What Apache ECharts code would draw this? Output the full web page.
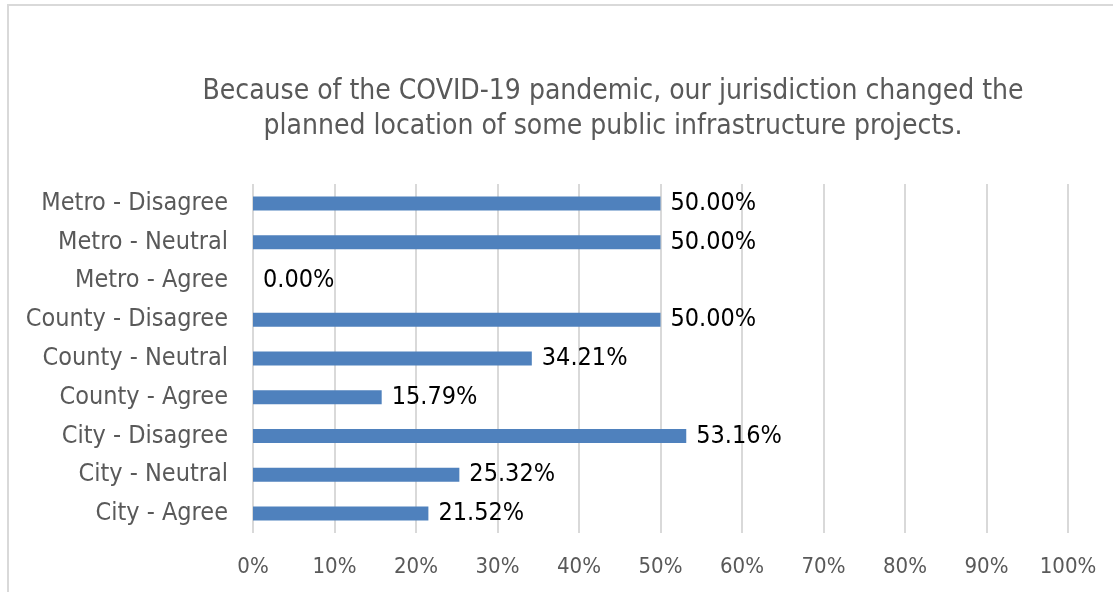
<!DOCTYPE html>
<html>
<head>
<meta charset="utf-8">
<script src="https://cdn.jsdelivr.net/npm/echarts@6/dist/echarts.min.js"></script>
<style>
  html, body { margin: 0; padding: 0; background: #fff; }
  #chart { width: 1113px; height: 592px; }
  #frame { position: absolute; left: 7px; top: 4px; width: 1120px; height: 600px; border: 2px solid #d9d9d9; box-sizing: border-box; pointer-events: none; }
</style>
</head>
<body>
<div id="chart"></div>
<div id="frame"></div>
<script>
const titleText = 'Because of the COVID-19 pandemic, our jurisdiction changed the\nplanned location of some public infrastructure projects.'
// bottom to top, as drawn
const categories = [
  'City - Agree', 'City - Neutral', 'City - Disagree',
  'County - Agree', 'County - Neutral', 'County - Disagree',
  'Metro - Agree', 'Metro - Neutral', 'Metro - Disagree'
]
const values = [21.52, 25.32, 53.16, 15.79, 34.21, 50.00, 0.00, 50.00, 50.00]

const fontFamily = '"DejaVu Sans Condensed", "DejaVu Sans", sans-serif'
const chart = echarts.init(document.getElementById('chart'))

chart.setOption({
  animation: false,
  title: {
    text: titleText,
    left: 608,
    top: 69,
    textAlign: 'center',
    textStyle: {
      color: '#595959',
      fontFamily,
      fontSize: 28,
      fontWeight: 'normal',
      lineHeight: 35
    }
  },
  grid: {
    left: 253,
    right: 45,
    top: 184,
    bottom: 59,
    containLabel: false
  },
  xAxis: {
    type: 'value',
    min: 0,
    max: 100,
    interval: 10,
    axisLine: { show: false },
    axisTick: { show: false },
    axisLabel: {
      color: '#595959',
      fontFamily,
      fontSize: 22,
      margin: 23,
      formatter: v => v + '%'
    },
    splitLine: {
      lineStyle: { color: '#d9d9d9', width: 2 }
    }
  },
  yAxis: {
    type: 'category',
    data: categories,
    axisLine: { show: false },
    axisTick: { show: false },
    axisLabel: {
      color: '#595959',
      fontFamily,
      fontSize: 25,
      margin: 25
    }
  },
  series: [
    {
      type: 'bar',
      data: values,
      barWidth: 14,
      itemStyle: { color: '#4f81bd' },
      label: {
        show: true,
        position: 'right',
        distance: 10,
        color: '#000',
        fontFamily,
        fontSize: 25,
        formatter: p => p.value.toFixed(2) + '%'
      }
    }
  ]
})
</script>
</body>
</html>
